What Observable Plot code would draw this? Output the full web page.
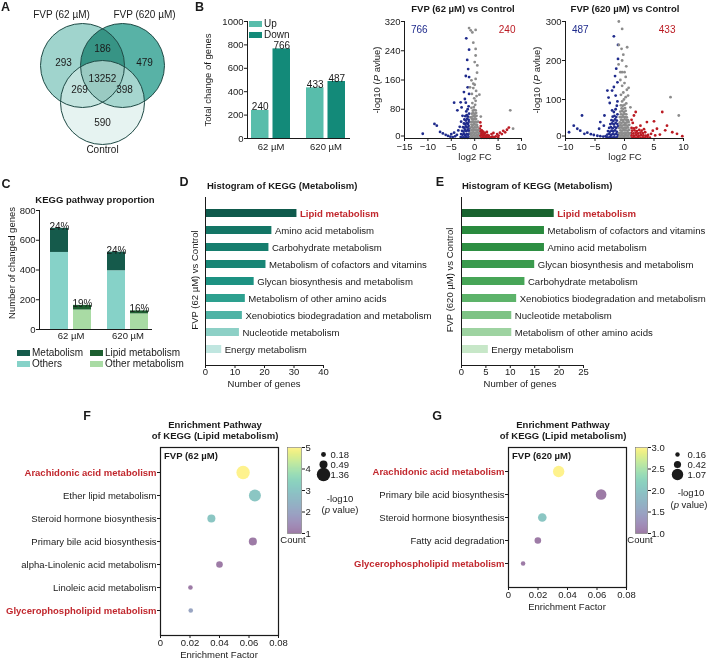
<!DOCTYPE html>
<html><head><meta charset="utf-8">
<script src="https://cdn.jsdelivr.net/npm/d3@7"></script>
<script src="https://cdn.jsdelivr.net/npm/@observablehq/plot@0.6"></script>
<style>
html,body{margin:0;padding:0;background:#fff;}
#root{position:relative;width:708px;height:659px;overflow:hidden;background:#fff;}
</style></head><body><div id="root"></div>
<script>
// ---------------- DATA ----------------
// A: Venn
const vennSets = ["FVP (62 µM)", "FVP (620 µM)", "Control"];
const vennCounts = [293, 186, 479, 13252, 269, 398, 590];
// B: up/down counts
const bGroups = ["62 µM", "620 µM"];
const bUp = [240, 433];
const bDown = [766, 487];
// Volcano points [log2FC, -log10 p]
const v62Down = [[-11.1,13],[-8.6,40],[-8.1,35],[-7.4,18],[-6.8,14],[-6.2,10],[-5.7,7],[-5.2,5],[-4.7,4],[-4.2,6],[-3.8,10],[-4.4,16],[-5.0,12],[-3.5,22],[-3.2,32],[-3.7,77],[-4.4,98],[-3.0,99],[-2.6,62],[-2.9,46],[-2.8,85],[-2.3,127],[-2.1,108],[-1.9,98],[-1.5,140],[-1.2,122],[-1.9,171],[-1.2,168],[-1.4,190],[-1.6,215],[-1.2,243],[-1.8,274],
 [-3.0,4],[-2.7,2],[-2.4,3],[-2.1,2],[-1.8,4],[-1.5,2],[-1.2,3],[-2.9,12],[-2.6,10],[-2.3,13],[-2.0,9],[-1.7,12],[-1.4,10],[-1.1,14],
 [-2.7,21],[-2.4,19],[-2.1,24],[-1.8,20],[-1.5,23],[-1.2,21],[-2.5,31],[-2.2,29],[-1.9,33],[-1.6,30],[-1.3,34],[-1.1,28],
 [-2.3,41],[-2.0,39],[-1.7,43],[-1.4,40],[-1.2,46],[-2.2,52],[-1.9,49],[-1.6,54],[-1.3,51],[-2.0,61],[-1.7,64],[-1.4,60],[-1.2,68],[-1.8,74],[-1.5,80],[-1.3,88]];
const v62Up = [[1.1,3],[1.4,2],[1.7,4],[2.0,2],[2.3,3],[2.6,2],[2.9,4],[3.2,2],[3.5,3],[1.2,8],[1.5,10],[1.8,7],[2.1,9],[2.4,7],[2.7,10],[3.0,8],
 [1.3,14],[1.6,16],[1.9,13],[2.2,15],[1.2,20],[1.5,22],[1.8,19],[1.1,27],[1.3,34],[1.2,44],
 [3.8,5],[4.2,3],[4.5,6],[4.8,12],[5.1,8],[5.4,16],[5.8,12],[6.1,21],[6.5,17],[6.9,24],[3.6,12],[4.0,15],[2.6,18],[5.0,3],[7.3,30]];
const v62NS = [[-0.9,2],[-0.6,4],[-0.3,2],[0,3],[0.3,2],[0.6,4],[0.9,2],[-0.8,9],[-0.5,8],[-0.2,10],[0.1,8],[0.4,9],[0.7,10],
 [-0.9,16],[-0.6,15],[-0.3,17],[0,15],[0.3,16],[0.6,17],[0.9,15],[-0.7,23],[-0.4,22],[-0.1,24],[0.2,23],[0.5,22],[0.8,24],
 [-0.9,30],[-0.6,31],[-0.3,29],[0,31],[0.3,30],[0.6,31],[-0.7,38],[-0.4,37],[-0.1,39],[0.2,38],[0.5,37],
 [-0.8,45],[-0.5,46],[-0.2,44],[0.1,46],[0.4,45],[0.7,46],[-0.6,53],[-0.3,52],[0,54],[0.3,53],[-0.9,58],
 [-0.5,60],[-0.2,61],[0.1,60],[0.4,62],[-0.6,68],[-0.3,69],[0,67],[0.3,70],[-0.4,76],[-0.1,78],[0.2,77],
 [-0.7,84],[-0.2,86],[0.1,92],[-0.5,97],[0.2,103],[-0.1,110],[0.4,116],[-0.6,122],[0.3,130],[-0.3,138],[0,147],
 [-0.7,159],[0.2,163],[-0.3,150],[0.5,180],[0.56,200],[0,209],[0.2,227],[0.2,245],[-0.3,262],[-0.5,290],[-1.2,302],[-0.85,296],[0.2,297],
 [7.6,77],[8.2,27],[1.3,60],[1.0,120],[-1.0,140]];
const v620Down = [[-9.4,16],[-8.6,33],[-7.2,59],[-7.5,20],[-6.3,15],[-5.7,11],[-5.2,9],[-4.6,7],[-4.1,6],[-3.6,5],[-3.2,6],[-4.3,25],[-3.5,33],[-4.1,42],[-3.4,59],[-2.1,72],[-2.5,91],[-1.5,110],[-2.9,123],[-2.1,123],[-1.8,132],[-1.2,144],[-1.4,179],[-1.1,204],[-1.1,240],[-1.8,262],[-6.8,12],[-8.0,25],[-2.7,105],[-1.6,160],
 [-3.0,3],[-2.7,2],[-2.4,4],[-2.1,2],[-1.8,3],[-1.5,2],[-1.2,4],[-2.9,10],[-2.6,12],[-2.3,9],[-2.0,11],[-1.7,10],[-1.4,12],[-1.1,9],
 [-2.8,19],[-2.5,17],[-2.2,20],[-1.9,18],[-1.6,21],[-1.3,17],[-2.6,27],[-2.3,29],[-2.0,26],[-1.7,30],[-1.4,27],[-1.1,31],
 [-2.4,37],[-2.1,39],[-1.8,36],[-1.5,40],[-1.2,37],[-2.2,47],[-1.9,45],[-1.6,49],[-1.3,46],[-2.0,56],[-1.7,58],[-1.4,55],[-1.2,62],[-1.8,68],[-1.5,75],[-1.3,84],[-1.2,95]];
const v620Up = [[1.1,2],[1.5,3],[1.9,2],[2.3,4],[2.7,2],[3.1,3],[3.5,2],[3.9,4],[4.3,2],[1.2,8],[1.6,7],[2.0,9],[2.4,7],[2.8,9],[3.2,8],[3.6,7],[4.0,9],
 [1.1,14],[1.5,13],[1.9,15],[2.3,13],[2.7,15],[3.1,14],[3.5,16],[1.3,20],[1.7,21],[2.1,19],[2.5,22],[2.9,20],[1.2,27],[1.6,26],[2.0,28],
 [1.6,59],[1.9,68],[2.7,33],[3.8,42],[5.0,44],[6.4,68],[5.5,25],[6.9,21],[8.1,16],[8.9,12],[9.8,6],[7.2,33],[4.5,12],[5.2,8],[6.0,10],[4.8,20],[3.3,24],[1.4,40],[1.2,48]];
const v620NS = [[-0.9,2],[-0.6,3],[-0.3,2],[0,4],[0.3,2],[0.6,3],[0.9,2],[-0.8,8],[-0.5,9],[-0.2,7],[0.1,9],[0.4,8],[0.7,9],
 [-0.9,14],[-0.6,15],[-0.3,13],[0,15],[0.3,14],[0.6,15],[0.9,13],[-0.7,21],[-0.4,20],[-0.1,22],[0.2,21],[0.5,20],[0.8,22],
 [-0.9,27],[-0.6,28],[-0.3,26],[0,28],[0.3,27],[0.6,28],[-0.7,34],[-0.4,33],[-0.1,35],[0.2,34],[0.5,33],[0.8,35],
 [-0.8,41],[-0.5,40],[-0.2,42],[0.1,40],[0.4,41],[0.7,42],[-0.6,48],[-0.3,47],[0,49],[0.3,48],[0.6,47],
 [-0.8,55],[-0.5,54],[-0.2,56],[0.1,55],[0.4,54],[-0.6,62],[-0.3,61],[0,63],[0.3,62],[-0.7,69],[-0.4,70],[-0.1,68],[0.2,71],
 [-0.5,77],[-0.2,76],[0.1,78],[-0.6,85],[-0.3,84],[0,86],[0.3,90],[-0.4,95],[-0.1,100],[0.2,106],[-0.6,112],[-0.2,118],[0.4,125],
 [-0.4,135],[0,142],[-0.7,150],[0.2,158],[-0.4,170],[0,170],[-0.7,170],[0.3,185],[-0.4,200],[-0.2,215],[0.45,234],[-0.5,230],[-0.96,240],[-0.4,281],[-0.96,300],[0.6,110],[0.7,130],
 [7.8,106],[9.2,59],[-1.0,190],[1.0,80]];
// C: KEGG proportion
const cGroups = ["62 µM", "620 µM"];
const cOthers = [518, 395];
const cMetabolism = [162, 125];
const cLipid = [31, 20];
const cOtherMetab = [131, 105];
const cParts = ["Metabolism", "Lipid metabolism", "Others", "Other metabolism"];
// D / E: KEGG metabolism histogram
const dPathways = ["Lipid metabolism","Amino acid metabolism","Carbohydrate metabolism","Metabolism of cofactors and vitamins","Glycan biosynthesis and metabolism","Metabolism of other amino acids","Xenobiotics biodegradation and metabolism","Nucleotide metabolism","Energy metabolism"];
const dGenes = [31, 22.5, 21.5, 20.5, 16.5, 13.5, 12.5, 11.5, 5.5];
const ePathways = ["Lipid metabolism","Metabolism of cofactors and vitamins","Amino acid metabolism","Glycan biosynthesis and metabolism","Carbohydrate metabolism","Xenobiotics biodegradation and metabolism","Nucleotide metabolism","Metabolism of other amino acids","Energy metabolism"];
const eGenes = [19, 17, 17, 15, 13, 11.3, 10.3, 10.3, 5.5];
// F / G: enrichment bubbles
const fPathways = ["Arachidonic acid metabolism","Ether lipid metabolism","Steroid hormone biosynthesis","Primary bile acid biosynthesis","alpha-Linolenic acid metabolism","Linoleic acid metabolism","Glycerophospholipid metabolism"];
const fFactor = [0.056, 0.064, 0.0345, 0.0626, 0.040, 0.0203, 0.0205];
const fLogP = [1.36, 1.09, 0.49, 0.49, 0.33, 0.16, 0.16];
const fCount = [5, 3, 3, 1, 1, 1, 2];
const fSizeLegend = [0.18, 0.49, 1.36];
const gPathways = ["Arachidonic acid metabolism","Primary bile acid biosynthesis","Steroid hormone biosynthesis","Fatty acid degradation","Glycerophospholipid metabolism"];
const gFactor = [0.034, 0.0628, 0.0229, 0.0199, 0.0099];
const gLogP = [1.07, 0.93, 0.61, 0.36, 0.17];
const gCount = [3, 1, 2, 1, 1];
const gSizeLegend = [0.16, 0.42, 1.07];
const highlighted = ["Lipid metabolism", "Arachidonic acid metabolism", "Glycerophospholipid metabolism"];

// ---------------- STYLE / LAYOUT ----------------
const FONT = "'Liberation Sans', Arial, Helvetica, sans-serif";
const INK = "#1a1a1a";
const HL_RED = "#c1272d";
const BLUE_PT = "#1f2b8c", RED_PT = "#bb1b23", GREY_PT = "#8c8c8c";
const UP_C = "#58bdab", DOWN_C = "#138a79";
const cColors = ["#155a4b", "#1d5f30", "#86d2c8", "#a9dba4"];
const dColors = ["#0f5a4c","#137565","#167e6e","#188575","#1d9282","#2da08f","#4fb3a5","#8dd0c6","#c0e6e0"];
const eColors = ["#19632f","#2a8a3e","#2e8f43","#3a9a4d","#47a557","#5db36a","#7ec385","#9ed3a1","#c7e7c8"];
const root = document.getElementById("root");
const baseStyle = {fontFamily: FONT, fontSize: "9.5px", color: INK, background: "transparent", overflow: "visible"};

function put(node, left, top) {
  node.style.position = "absolute"; node.style.left = left + "px"; node.style.top = top + "px";
  root.appendChild(node);
}
function txt(html, x, y, o = {}) {
  const d = document.createElement("div");
  d.innerHTML = html;
  const s = d.style;
  s.position = "absolute"; s.left = x + "px"; s.top = y + "px"; s.whiteSpace = "nowrap";
  s.fontFamily = FONT; s.fontSize = (o.size || 9.5) + "px"; s.lineHeight = "1";
  if (o.bold) s.fontWeight = "bold";
  s.color = o.color || INK;
  const ax = o.anchor === "start" ? "0" : o.anchor === "end" ? "-100%" : "-50%";
  s.transform = `translate(${ax},-50%)` + (o.rotate ? ` rotate(${o.rotate}deg)` : "");
  root.appendChild(d);
}
function swatch(color, x, y, w, h) {
  const d = document.createElement("div");
  Object.assign(d.style, {position: "absolute", left: x + "px", top: y + "px", width: w + "px", height: h + "px", background: color});
  root.appendChild(d);
}

// ---------------- A: Venn ----------------
const vennCircle = [{cx: 82, cy: 65}, {cx: 122, cy: 65}, {cx: 102, cy: 102}];
const vennR = 42;
const vennSetPos = [[61, 14], [144, 14], [102, 149]];
const vennCountPos = [[63, 62], [102, 48], [144, 62], [102, 78], [79, 89], [124, 89], [102, 122]];
put(Plot.plot({
  width: 175, height: 165, margin: 0, style: baseStyle,
  x: {domain: [0, 175], range: [0, 175], axis: null},
  y: {domain: [0, 165], range: [0, 165], axis: null},
  marks: [
    Plot.dot([vennCircle[0]], {x: "cx", y: "cy", r: vennR, fill: "#a0d4cd", mixBlendMode: "multiply"}),
    Plot.dot([vennCircle[1]], {x: "cx", y: "cy", r: vennR, fill: "#58b2a6", mixBlendMode: "multiply"}),
    Plot.dot([vennCircle[2]], {x: "cx", y: "cy", r: vennR, fill: "#d7ece9", fillOpacity: 0.62}),
    Plot.dot(vennCircle, {x: "cx", y: "cy", r: vennR, stroke: "#1e4a45", strokeWidth: 1}),
    Plot.text(vennCounts, {x: (d, i) => vennCountPos[i][0], y: (d, i) => vennCountPos[i][1], text: d => String(d), fontSize: 10, fill: INK}),
    Plot.text(vennSets, {x: (d, i) => vennSetPos[i][0], y: (d, i) => vennSetPos[i][1], text: d => d, fontSize: 10, fill: INK})
  ]
}), 0, 0);

// ---------------- B: bar chart ----------------
const bRows = bGroups.map((g, i) => ({group: g, up: bUp[i], down: bDown[i]}));
put(Plot.plot({
  width: 182, height: 165, marginLeft: 77, marginRight: 2, marginTop: 21, marginBottom: 27, style: baseStyle,
  x: {domain: bGroups, paddingInner: 0.29, paddingOuter: 0.07, label: null, tickSize: 0, tickPadding: 5},
  y: {domain: [0, 1000], ticks: [0, 200, 400, 600, 800, 1000], tickFormat: d3.format("d"), label: null, tickSize: 3, tickPadding: 1},
  marks: [
    Plot.barY(bRows, {x: "group", y: "up", fill: UP_C, insetRight: 21.5}),
    Plot.barY(bRows, {x: "group", y: "down", fill: DOWN_C, insetLeft: 21.5}),
    Plot.text(bRows, {x: "group", y: "up", text: d => String(d.up), dx: -10.8, lineAnchor: "bottom", dy: 0, fontSize: 10}),
    Plot.text(bRows, {x: "group", y: "down", text: d => String(d.down), dx: 10.8, lineAnchor: "bottom", dy: 0, fontSize: 10}),
    Plot.ruleY([0], {stroke: INK}),
    Plot.frame({anchor: "left", stroke: INK})
  ]
}), 170, 0);
swatch(UP_C, 249, 21, 13, 6); txt("Up", 264, 24, {anchor: "start", size: 10});
swatch(DOWN_C, 249, 32, 13, 6); txt("Down", 264, 35, {anchor: "start", size: 10});
txt("Total change of genes", 208, 80, {rotate: -90});

// ---------------- Volcano plots ----------------
function volcano(down, up, ns, o) {
  return Plot.plot({
    width: o.width, height: 165, marginLeft: o.ml, marginRight: o.mr, marginTop: 21, marginBottom: 27, style: baseStyle,
    x: {domain: o.xDomain, ticks: o.xTicks, label: null, tickSize: 3, tickPadding: 2},
    y: {domain: o.yDomain, label: null},
    marks: [
      Plot.axisY(o.yTicks.slice(1), {tickSize: 3, tickPadding: 1, label: null}),
      Plot.axisY(o.yTicks.slice(0, 1), {tickSize: 3, tickPadding: 1, label: null, dy: -2.5}),
      Plot.dot(down, {x: d => d[0], y: d => d[1], r: 1.4, fill: BLUE_PT}),
      Plot.dot(up, {x: d => d[0], y: d => d[1], r: 1.4, fill: RED_PT}),
      Plot.dot(ns, {x: d => d[0], y: d => d[1], r: 1.4, fill: GREY_PT}),
      Plot.ruleY([o.yDomain[0]], {stroke: INK}),
      Plot.ruleX([o.xDomain[0]], {stroke: INK}),
      Plot.text([o.nDown], {frameAnchor: "top-left", dx: 6.5, dy: 8, textAnchor: "start", lineAnchor: "middle", text: d => String(d), fill: BLUE_PT, fontSize: 10}),
      Plot.text([o.nUp], {frameAnchor: "top-right", dx: o.upDx, dy: 8, textAnchor: "end", lineAnchor: "middle", text: d => String(d), fill: RED_PT, fontSize: 10})
    ]
  });
}
put(volcano(v62Down, v62Up, v62NS, {width: 190, ml: 64, mr: 9, xDomain: [-15, 10], xTicks: [-15, -10, -5, 0, 5, 10], yDomain: [0, 320], yTicks: [0, 80, 160, 240, 320], nDown: bDown[0], nUp: bUp[0], upDx: -6}), 340, 0);
put(volcano(v620Down, v620Up, v620NS, {width: 200, ml: 65, mr: 17, xDomain: [-10, 10], xTicks: [-10, -5, 0, 5, 10], yDomain: [0, 300], yTicks: [0, 100, 200, 300], nDown: bDown[1], nUp: bUp[1], upDx: -8}), 500, 0);
txt("FVP (62 µM) vs Control", 463, 9, {bold: true});
txt("FVP (620 µM) vs Control", 625, 9, {bold: true});
txt("-log10 (<i>P</i> avlue)", 377, 80, {rotate: -90});
txt("-log10 (<i>P</i> avlue)", 537, 80, {rotate: -90});
txt("log2 FC", 475, 157);
txt("log2 FC", 625, 157);

// ---------------- C: KEGG pathway proportion ----------------
const cLeft = cGroups.flatMap((g, i) => [{group: g, part: "Others", value: cOthers[i]}, {group: g, part: "Metabolism", value: cMetabolism[i]}]);
const cRight = cGroups.flatMap((g, i) => [{group: g, part: "Other metabolism", value: cOtherMetab[i]}, {group: g, part: "Lipid metabolism", value: cLipid[i]}]);
const cTopL = cGroups.map((g, i) => ({group: g, total: cOthers[i] + cMetabolism[i], pct: Math.round(100 * cMetabolism[i] / (cOthers[i] + cMetabolism[i])) + "%"}));
const cTopR = cGroups.map((g, i) => ({group: g, total: cLipid[i] + cOtherMetab[i], pct: Math.round(100 * cLipid[i] / (cLipid[i] + cOtherMetab[i])) + "%"}));
put(Plot.plot({
  width: 175, height: 160, marginLeft: 39, marginRight: 23, marginTop: 25, marginBottom: 16, style: baseStyle,
  x: {domain: cGroups, paddingInner: 0.28, paddingOuter: 0.131, align: 0.73, label: null, tickSize: 0, tickPadding: 3},
  y: {domain: [0, 800], ticks: [0, 200, 400, 600, 800], label: null, tickSize: 3, tickPadding: 1},
  color: {domain: cParts, range: cColors},
  marks: [
    Plot.barY(cLeft, {x: "group", y: "value", fill: "part", insetRight: 23}),
    Plot.barY(cRight, {x: "group", y: "value", fill: "part", insetLeft: 23}),
    Plot.text(cTopL, {x: "group", y: "total", text: "pct", dx: -11.5, lineAnchor: "bottom", dy: 1.5, fontSize: 10}),
    Plot.text(cTopR, {x: "group", y: "total", text: "pct", dx: 11.5, lineAnchor: "bottom", dy: 1.5, fontSize: 10}),
    Plot.ruleY([0], {stroke: INK}),
    Plot.frame({anchor: "left", stroke: INK})
  ]
}), 0, 185);
txt("KEGG pathway proportion", 95, 200, {bold: true});
txt("Number of changed genes", 12, 263, {rotate: -90});
swatch(cColors[0], 17, 350, 13, 6); txt(cParts[0], 32, 353, {anchor: "start", size: 10});
swatch(cColors[1], 90, 350, 13, 6); txt(cParts[1], 105, 353, {anchor: "start", size: 10});
swatch(cColors[2], 17, 361, 13, 6); txt(cParts[2], 32, 364, {anchor: "start", size: 10});
swatch(cColors[3], 90, 361, 13, 6); txt(cParts[3], 105, 364, {anchor: "start", size: 10});

// ---------------- D / E: horizontal histograms ----------------
function hbar(names, values, colors, o) {
  const rows = names.map((n, i) => ({name: n, value: values[i], color: colors[i]}));
  return Plot.plot({
    width: o.width, height: 210, marginLeft: o.ml, marginRight: o.mr, marginTop: 12, marginBottom: 30, style: baseStyle,
    x: {domain: [0, o.xMax], ticks: o.xTicks, label: null, tickSize: 3, tickPadding: 0},
    y: {domain: names, paddingInner: 0.51, paddingOuter: 0.45, axis: null},
    marks: [
      Plot.barX(rows, {y: "name", x: "value", fill: "color"}),
      Plot.text(rows.filter(d => !highlighted.includes(d.name)), {y: "name", x: "value", text: "name", textAnchor: "start", dx: 3, fill: INK, fontSize: 9.6}),
      Plot.text(rows.filter(d => highlighted.includes(d.name)), {y: "name", x: "value", text: "name", textAnchor: "start", dx: 3, fill: HL_RED, fontWeight: "bold", fontSize: 9.6}),
      Plot.ruleX([0], {stroke: INK}),
      Plot.frame({anchor: "bottom", stroke: INK})
    ]
  });
}
put(hbar(dPathways, dGenes, dColors, {width: 275, ml: 35, mr: 122, xMax: 40, xTicks: [0, 10, 20, 30, 40]}), 170, 185);
put(hbar(ePathways, eGenes, eColors, {width: 268, ml: 21, mr: 125, xMax: 25, xTicks: [0, 5, 10, 15, 20, 25]}), 440, 185);
txt("Histogram of KEGG (Metabolism)", 207, 186, {bold: true, anchor: "start"});
txt("Histogram of KEGG (Metabolism)", 462, 186, {bold: true, anchor: "start"});
txt("FVP (62 µM) vs Control", 195, 280, {rotate: -90});
txt("FVP (620 µM) vs Control", 450, 280, {rotate: -90});
txt("Number of genes", 264, 384);
txt("Number of genes", 520, 384);

// ---------------- F / G: enrichment bubbles ----------------
function bubble(names, factor, logp, count, o) {
  const rows = names.map((n, i) => ({name: n, factor: factor[i], logp: logp[i], count: count[i]}));
  const hl = names.filter(n => highlighted.includes(n));
  const plain = names.filter(n => !highlighted.includes(n));
  return Plot.plot({
    width: o.width, height: 249, marginLeft: o.ml, marginRight: o.mr, marginTop: 37, marginBottom: o.mb, style: baseStyle,
    x: {domain: [0, 0.08], ticks: [0, 0.02, 0.04, 0.06, 0.08], tickFormat: d3.format("~g"), label: null, tickSize: 3, tickPadding: 1},
    y: {type: "point", domain: names, padding: 1, label: null},
    r: {domain: [0, o.rMax], range: [0, o.rPix]},
    color: {type: "linear", scheme: "viridis", domain: o.countDomain},
    marks: [
      Plot.axisY(plain, {tickSize: 3, tickPadding: 1, label: null, fill: INK, stroke: INK}),
      Plot.axisY(hl, {tickSize: 3, tickPadding: 1, label: null, fill: HL_RED, stroke: INK, fontWeight: "bold"}),
      Plot.dot(rows, {x: "factor", y: "name", r: "logp", fill: "count", fillOpacity: 0.52}),
      Plot.frame({stroke: INK, strokeWidth: 1.2}),
      Plot.text([o.label], {frameAnchor: "top-left", dx: 3.5, dy: 8, textAnchor: "start", lineAnchor: "middle", text: d => d, fontWeight: "bold", fontSize: 9.5})
    ]
  });
}
function colorbar(o) {
  return Plot.plot({
    width: 45, height: 100, marginLeft: 7, marginRight: 45 - 7 - o.barW, marginTop: 7, marginBottom: 7, style: baseStyle,
    x: {domain: [0, 1], axis: null},
    y: {domain: o.countDomain, ticks: o.ticks, tickFormat: o.fmt, axis: "right", tickSize: 3, tickPadding: 1, label: null},
    color: {type: "linear", scheme: "viridis", domain: o.countDomain},
    marks: [
      Plot.raster({x1: 0, x2: 1, y1: o.countDomain[0], y2: o.countDomain[1], fill: (x, y) => y, width: 1, height: 80, fillOpacity: 0.52}),
      Plot.frame({stroke: "#777", strokeWidth: 0.6})
    ]
  });
}
function sizeLegend(vals, o) {
  return Plot.plot({
    width: o.width, height: o.height, marginLeft: 10, marginRight: o.width - 10, marginTop: 8, marginBottom: 8, style: baseStyle,
    x: {domain: [0, 1], axis: null},
    y: {type: "point", domain: vals, axis: null},
    r: {domain: [0, o.rMax], range: [0, o.rPix]},
    marks: [
      Plot.dot(vals, {y: d => d, r: d => d, fill: INK, frameAnchor: "left"}),
      Plot.text(vals, {y: d => d, text: d => d.toFixed(2), frameAnchor: "left", dx: o.dx, textAnchor: "start", fontSize: 9.5})
    ]
  });
}
put(bubble(fPathways, fFactor, fLogP, fCount, {width: 350, ml: 160, mr: 72, mb: 24, rMax: 1.36, rPix: 6.7, countDomain: [1, 5], label: "FVP (62 µM)"}), 0, 410);
put(colorbar({countDomain: [1, 5], ticks: [1, 2, 3, 4, 5], fmt: d3.format("d"), barW: 14}), 280, 440);
put(sizeLegend(fSizeLegend, {width: 45, height: 48, rMax: 1.36, rPix: 6.7, dx: 7}), 313, 440);
put(bubble(gPathways, gFactor, gLogP, gCount, {width: 358, ml: 158, mr: 82, mb: 72, rMax: 1.07, rPix: 5.7, countDomain: [1, 3], label: "FVP (620 µM)"}), 350, 410);
put(colorbar({countDomain: [1, 3], ticks: [1, 1.5, 2, 2.5, 3], fmt: d3.format(".1f"), barW: 12}), 628, 440);
put(sizeLegend(gSizeLegend, {width: 41, height: 46, rMax: 1.07, rPix: 5.7, dx: 10}), 667, 441);
txt("Enrichment Pathway", 215, 425, {bold: true});
txt("of KEGG (Lipid metabolism)", 215, 436, {bold: true});
txt("Enrichment Pathway", 563, 425, {bold: true});
txt("of KEGG (Lipid metabolism)", 563, 436, {bold: true});
txt("Enrichment Factor", 219, 655);
txt("Enrichment Factor", 567, 607);
txt("Count", 293, 540);
txt("Count", 640, 540);
txt("-log10", 340, 499);
txt("(<i>p</i> value)", 340, 510);
txt("-log10", 691, 493);
txt("(<i>p</i> value)", 689, 505);

// ---------------- panel letters ----------------
[["A", 5.5, 7], ["B", 199.5, 7], ["C", 6, 184], ["D", 184, 182], ["E", 440, 182], ["F", 87, 416], ["G", 437, 416]]
  .forEach(([l, x, y]) => txt(l, x, y, {bold: true, size: 12.5}));
</script></body></html>
